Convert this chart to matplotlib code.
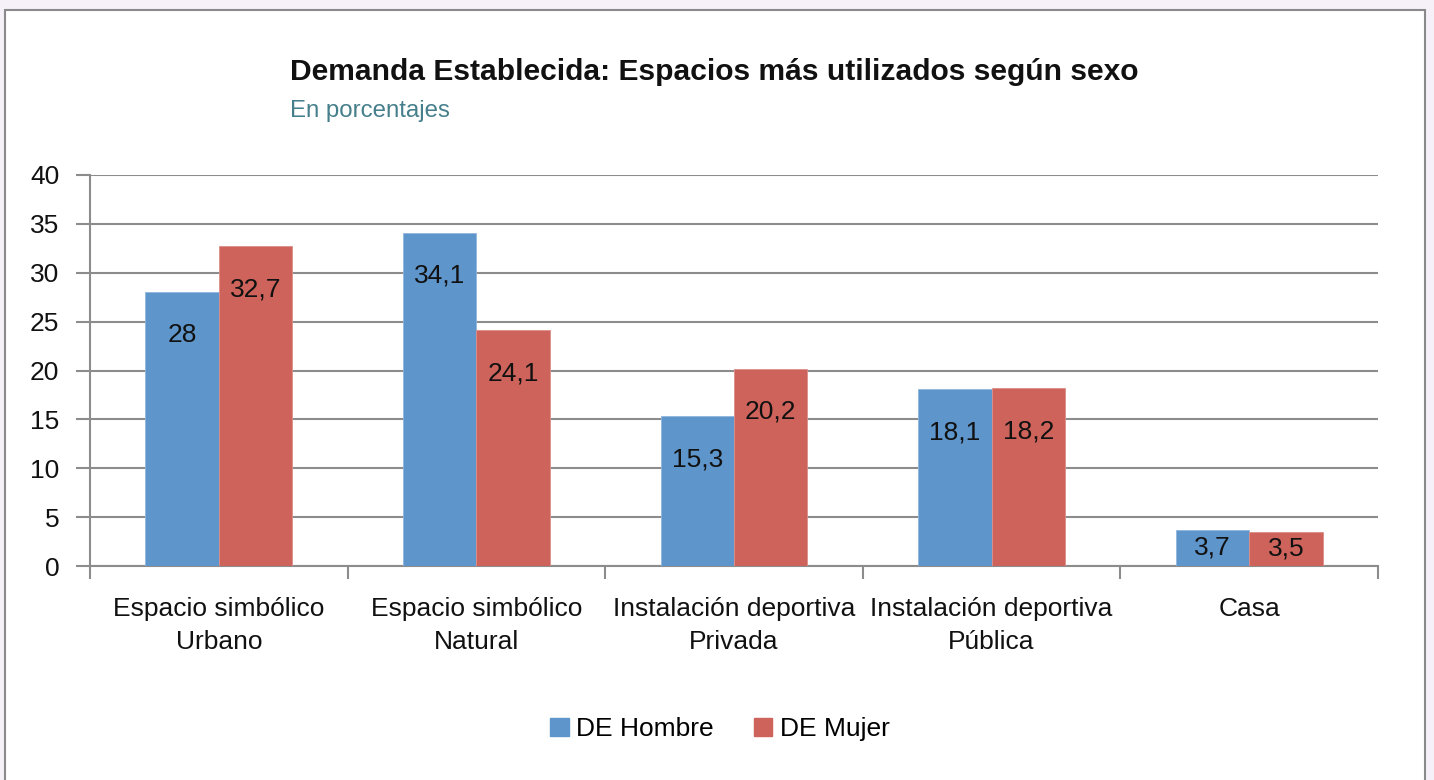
import matplotlib
matplotlib.use("Agg")
import matplotlib.pyplot as plt
from matplotlib import font_manager
from matplotlib.patches import Rectangle, Patch
import numpy as np

categories = ["Espacio simbólico\nUrbano", "Espacio simbólico\nNatural",
              "Instalación deportiva\nPrivada", "Instalación deportiva\nPública", "Casa"]
hombre = [28, 34.1, 15.3, 18.1, 3.7]
mujer = [32.7, 24.1, 20.2, 18.2, 3.5]
series_names = ["DE Hombre", "DE Mujer"]
yticks = [0, 5, 10, 15, 20, 25, 30, 35, 40]

names = {f.name for f in font_manager.fontManager.ttflist}
narrow = "Liberation Sans Narrow" in names
base = ["Liberation Sans Narrow", "Liberation Sans", "DejaVu Sans"] if narrow else ["Liberation Sans", "DejaVu Sans"]
fs = 23 if narrow else 19
plt.rcParams['font.family'] = base

W, H = 1434, 780
fig = plt.figure(figsize=(W / 100, H / 100), dpi=100)
fig.patch.set_facecolor("#f6f1f8")
frame = Rectangle((5 / W, -0.01), 1420 / W, (H - 10) / H + 0.01, transform=fig.transFigure,
                  facecolor="white", edgecolor="#8a8a8a", linewidth=1.5, zorder=-10)
fig.patches.append(frame)

ax = fig.add_axes([90 / W, 1 - 566 / H, (1378 - 90) / W, (566 - 175) / H])
ax.set_zorder(5)
ax.set_facecolor("white")

blue = "#5E95CB"
red = "#CD635A"
x = np.arange(len(categories))
bw = 0.285
ax.bar(x - bw / 2, hombre, bw, color=blue, edgecolor="#8fb5dd", linewidth=0.6, zorder=3)
ax.bar(x + bw / 2, mujer, bw, color=red, edgecolor="#dd8f89", linewidth=0.6, zorder=3)

def fmt(v):
    s = f"{v:g}"
    return s.replace(".", ",")

for xs, vals in ((x - bw / 2, hombre), (x + bw / 2, mujer)):
    for xi, v in zip(xs, vals):
        ypos = max(v - 4.4, v / 2)
        ax.text(xi, ypos, fmt(v), ha="center", va="center", fontsize=fs, color="#111111", zorder=4)

ax.set_xlim(-0.5, len(categories) - 0.5)
ax.set_ylim(0, 40)
ax.set_yticks(yticks)
ax.set_yticklabels([str(t) for t in yticks], fontsize=fs, color="#111111")
ax.yaxis.grid(True, color="#8c8c8c", linewidth=1.5, zorder=1)
ax.set_axisbelow(True)

ax.set_xticks(x)
ax.set_xticklabels(categories, fontsize=fs, color="#111111", linespacing=1.5)
ax.tick_params(axis="x", length=0, pad=22)
ax.set_xticks(np.arange(-0.5, len(categories)), minor=True)
ax.tick_params(axis="x", which="minor", length=9, width=1.5, color="#8c8c8c", direction="out")
ax.tick_params(axis="y", length=10, width=1.5, color="#8c8c8c", pad=12)

for s in ("top", "right"):
    ax.spines[s].set_visible(False)
for s in ("left", "bottom"):
    ax.spines[s].set_color("#8c8c8c")
    ax.spines[s].set_linewidth(1.5)

tfam = ["Liberation Sans", "DejaVu Sans"]
fig.text(290 / W, 1 - 72 / H, "Demanda Establecida: Espacios más utilizados según sexo",
         fontsize=21.6, fontweight="bold", family=tfam, color="#111111", ha="left", va="center")
fig.text(290 / W, 1 - 111 / H, "En porcentajes", fontsize=17.3, family=tfam,
         color="#467f8c", ha="left", va="center")

handles = [Patch(facecolor=blue, edgecolor=blue), Patch(facecolor=red, edgecolor=red)]
fig.legend(handles, series_names, loc="center", bbox_to_anchor=(720 / W, 1 - 729 / H), ncol=2,
           frameon=False, fontsize=fs, handlelength=0.7, handleheight=0.7, handletextpad=0.3,
           columnspacing=1.5)

fig.savefig("out.png", dpi=100, facecolor=fig.get_facecolor())
